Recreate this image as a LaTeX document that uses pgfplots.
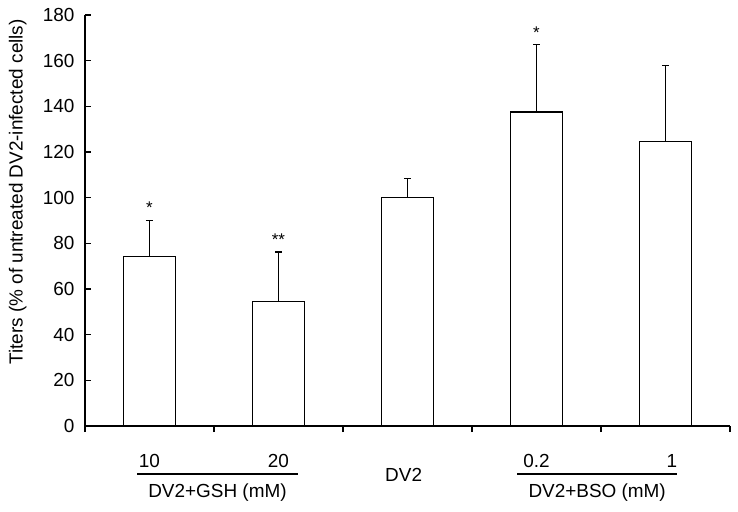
\documentclass[border=0pt]{standalone}
\usepackage{pgfplots}
\pgfplotsset{compat=1.18}
\usepackage{fontspec}
\setmainfont{Liberation Sans}
\begin{document}
\begin{tikzpicture}[font=\fontsize{19}{22}\selectfont]
\begin{axis}[
  at={(0,0)}, anchor=south west,
  scale only axis,
  width=645bp, height=411bp,
  xmin=-0.5, xmax=4.5,
  ymin=0, ymax=180,
  ytick={0,20,...,180},
  xtick={-0.5,0.5,1.5,2.5,3.5,4.5},
  xticklabels={},
  tick align=inside,
  major tick length=6bp,
  axis x line*=bottom,
  axis y line*=left,
  axis line style={-, line width=1.35pt},
  tick style={line width=1.35pt, black},
  /pgf/number format/assume math mode=true,
  tick label style={font=\fontsize{19}{22}\selectfont},
  yticklabel style={xshift=-7bp},
  clip=false,
  ybar, bar width=0.4,
]
\addplot[fill=white, draw=black, line width=1.35pt,
  error bars/.cd, y dir=plus, y explicit,
  error bar style={line width=1.35pt, black},
  error mark options={line width=1.35pt, mark size=3.5bp, rotate=90}]
  coordinates {
  (0,74.2) +- (0,15.9)
  (1,54.5) +- (0,21.7)
  (2,100) +- (0,8.5)
  (3,137.5) +- (0,29.7)
  (4,124.5) +- (0,33.3)
  };
\node[font=\fontsize{17}{19}\selectfont] at (axis cs:0,95.5) {*};
\node[font=\fontsize{17}{19}\selectfont] at (axis cs:1,81.5) {**};
\node[font=\fontsize{17}{19}\selectfont] at (axis cs:3,172.2) {*};
\node at (axis cs:0,-15.3) {10};
\node at (axis cs:1,-15.3) {20};
\draw[line width=1.2pt] (axis cs:-0.096,-21) -- (axis cs:1.149,-21);
\node at (axis cs:0.527,-29.3) {DV2+GSH (mM)};
\node at (axis cs:1.97,-21.5) {DV2};
\node at (axis cs:3.0,-15.3) {0.2};
\node at (axis cs:4.05,-15.3) {1};
\draw[line width=1.2pt] (axis cs:2.85,-21) -- (axis cs:4.09,-21);
\node at (axis cs:3.47,-29.3) {DV2+BSO (mM)};
\node[rotate=90] at (axis cs:-1.021,102.5) {Titers (\% of untreated DV2-infected cells)};
\end{axis}
\path (-85bp,-86bp) rectangle (653bp,426bp);
\end{tikzpicture}
\end{document}
